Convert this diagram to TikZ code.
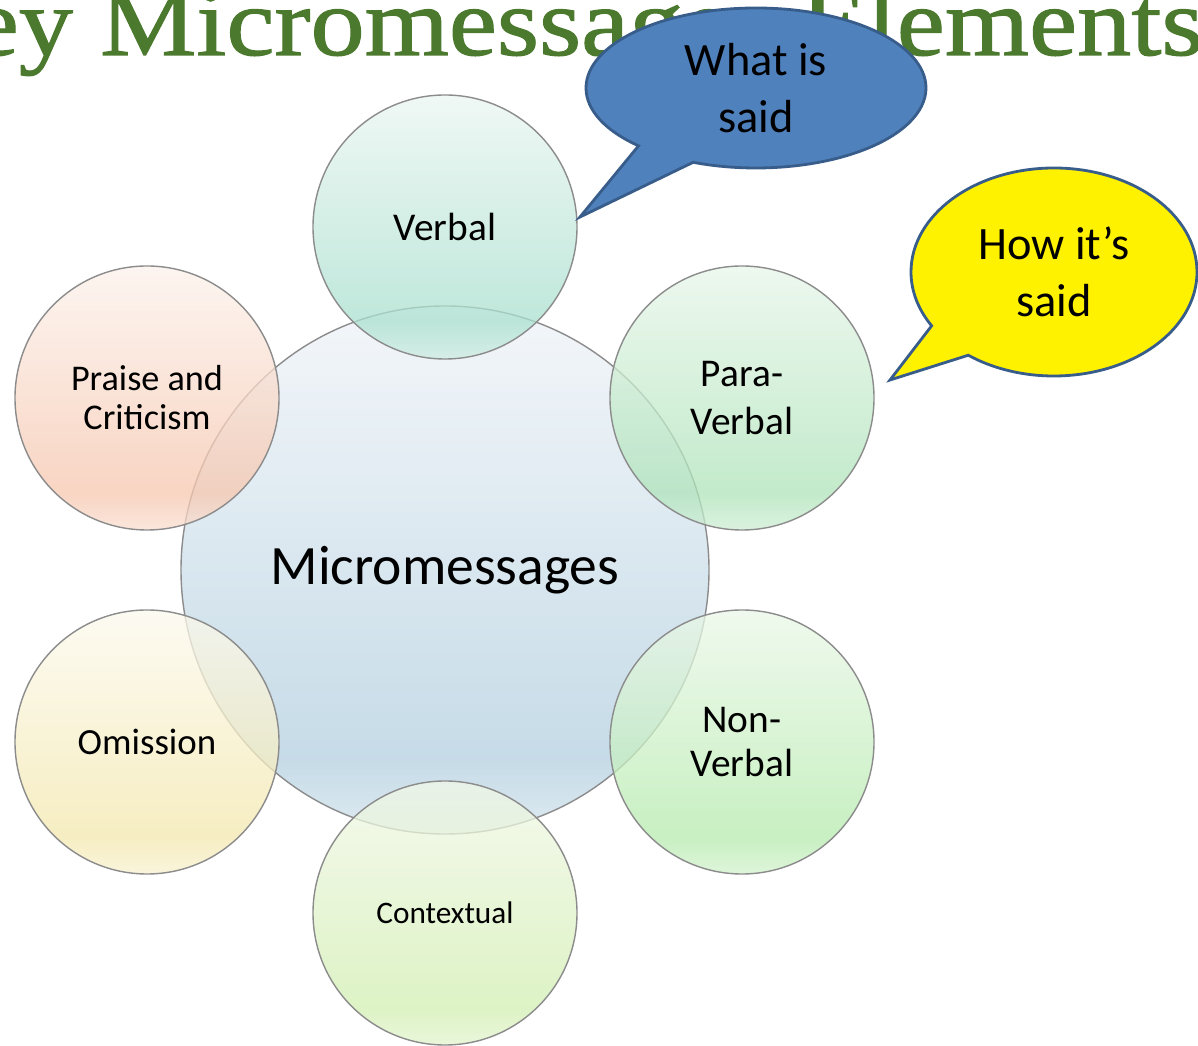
\documentclass[tikz,border=0pt]{standalone}
\usepackage{fontspec}
\setmainfont{Carlito}
\newfontfamily\headfont[FakeStretch=1.12,FakeBold=1.2]{Liberation Serif}
\usepackage{tikz}
\usetikzlibrary{shapes.callouts}
\definecolor{headgreen}{HTML}{4B7A2E}
\definecolor{rim}{HTML}{8C8C8C}
\definecolor{saidblue}{HTML}{4F81BD}
\definecolor{saidrim}{HTML}{385D8A}
\definecolor{hubtop}{RGB}{240,244,248}
\definecolor{hubbot}{RGB}{179,208,224}
\definecolor{verbtop}{RGB}{235,246,242}
\definecolor{verbbot}{RGB}{170,224,207}
\definecolor{paratop}{RGB}{232,246,234}
\definecolor{parabot}{RGB}{175,228,186}
\definecolor{nontop}{RGB}{235,248,232}
\definecolor{nonbot}{RGB}{182,235,174}
\definecolor{ctxtop}{RGB}{242,248,232}
\definecolor{ctxbot}{RGB}{210,239,178}
\definecolor{omittop}{RGB}{252,250,238}
\definecolor{omitbot}{RGB}{244,232,174}
\definecolor{praisetop}{RGB}{252,242,236}
\definecolor{praisebot}{RGB}{247,199,175}
% glossy vertical shading, darkest a little above the bottom edge
\colorlet{glosstop}{white}\colorlet{glossbot}{gray}\colorlet{glosslow}{gray}
\pgfdeclareverticalshading[glosstop,glossbot,glosslow]{gloss}{100bp}{color(0bp)=(glosslow); color(25bp)=(glosslow); color(32bp)=(glossbot); color(75bp)=(glosstop); color(100bp)=(glosstop)}

\begin{document}
\begin{tikzpicture}[
 gloss/.style 2 args={/utils/exec={\colorlet{glosstop}{#1}\colorlet{glossbot}{#2}\colorlet{glosslow}{#2!45!#1}},shading=gloss},
 bubble/.style={circle,draw=rim,line width=0.4pt,fill opacity=0.75,text opacity=1,minimum size=2.64cm,inner sep=0pt,align=center},
 hub/.style={bubble,minimum size=5.28cm},
 talk/.style={ellipse callout,draw=saidrim,line width=0.8pt,inner sep=0pt,align=center,callout pointer arc=22,font=\fontsize{13.2}{16.4}\selectfont}]
\path[fill=white,use as bounding box] (0,0) rectangle (11.98,-10.46);
\begin{scope}
\clip (0,0) rectangle (11.98,-10.46);
\node[anchor=base west,inner sep=0pt,text=headgreen,font=\headfont\fontsize{27.5}{30}\selectfont] (title) at (-1.08,-0.55) {Key Micromessages Elements};
\end{scope}
% central circle and the six around it
\node[hub,gloss={hubtop}{hubbot},font=\fontsize{15.8}{19}\selectfont] (hub) at (4.45,-5.70) {Micromessages};
\node[bubble,gloss={verbtop}{verbbot},font=\fontsize{11.2}{13}\selectfont] (verbal) at (4.45,-2.27) {Verbal};
\node[bubble,gloss={paratop}{parabot},font=\fontsize{11.2}{13.4}\selectfont] (paraverbal) at (7.42,-3.98) {Para-\\Verbal};
\node[bubble,gloss={nontop}{nonbot},font=\fontsize{11.2}{12.6}\selectfont] (nonverbal) at (7.42,-7.42) {Non-\\Verbal};
\node[bubble,gloss={ctxtop}{ctxbot},font=\fontsize{8.9}{11}\selectfont] (contextual) at (4.45,-9.13) {Contextual};
\node[bubble,gloss={omittop}{omitbot},font=\fontsize{10.5}{12}\selectfont] (omission) at (1.47,-7.42) {Omission};
\node[bubble,gloss={praisetop}{praisebot},font=\fontsize{10.3}{11.1}\selectfont] (praise) at (1.47,-3.98) {Praise and\\Criticism};
% speech bubbles
\coordinate (saidtip) at (5.80,-2.17);
\node[talk,fill=saidblue,minimum width=3.40cm,minimum height=1.60cm,callout absolute pointer={(saidtip)}] (whatsaid) at (7.56,-0.88) {What is\\said};
\coordinate (howtip) at (8.90,-3.80);
\node[talk,fill=yellow,minimum width=2.86cm,minimum height=2.08cm,callout absolute pointer={(howtip)}] (howsaid) at (10.54,-2.72) {How it’s\\said};
\end{tikzpicture}
\end{document}
